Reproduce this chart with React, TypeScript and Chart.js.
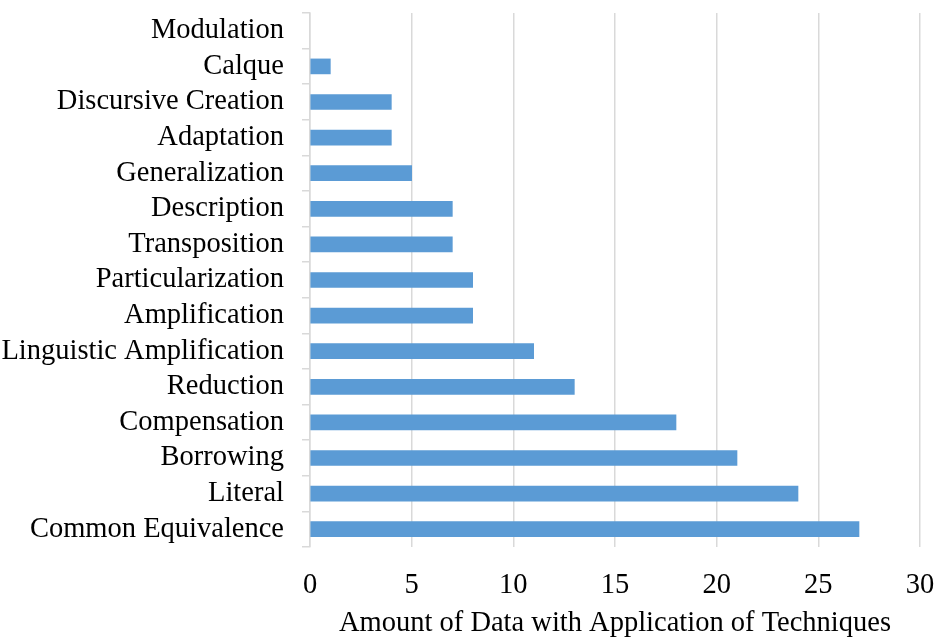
import React, { useEffect, useRef } from "react";
import { Chart, registerables } from "chart.js";

Chart.register(...registerables);

const categories = [
  "Modulation",
  "Calque",
  "Discursive Creation",
  "Adaptation",
  "Generalization",
  "Description",
  "Transposition",
  "Particularization",
  "Amplification",
  "Linguistic Amplification",
  "Reduction",
  "Compensation",
  "Borrowing",
  "Literal",
  "Common Equivalence",
];
const values = [0, 1, 4, 4, 5, 7, 7, 8, 8, 11, 13, 18, 21, 24, 27];
const xTitle = "Amount of Data with Application of Techniques";

const FONT = "'Liberation Serif', 'Times New Roman', serif";
const FS = 28.5;

export default function App() {
  const ref = useRef<HTMLCanvasElement>(null);
  useEffect(() => {
    const canvas = ref.current!;
    const chart = new Chart(canvas, {
      type: "bar",
      data: {
        labels: categories,
        datasets: [
          {
            data: values,
            backgroundColor: (ctx: any) => (ctx.raw === 0 ? "rgba(0,0,0,0)" : "#5B9BD5"),
            borderWidth: 0,
            barThickness: 15,
          },
        ],
      },
      options: {
        indexAxis: "y",
        animation: false,
        responsive: false,
        maintainAspectRatio: false,
        layout: { padding: { top: 13, right: 17, left: 0, bottom: 0 } },
        plugins: { legend: { display: false }, tooltip: { enabled: false } },
        scales: {
          x: {
            min: 0,
            max: 30,
            ticks: {
              stepSize: 5,
              color: "#000",
              font: { family: FONT, size: FS },
              padding: 21,
            },
            grid: { color: "#D9D9D9", lineWidth: 1.5, drawTicks: false },
            border: { display: false },
            title: {
              display: true,
              text: xTitle,
              color: "#000",
              font: { family: FONT, size: FS },
              padding: { top: 0, bottom: -4 },
            },
            afterFit: (scale: any) => {
              scale.height = 90;
              scale.paddingLeft = 0;
              scale.paddingRight = 0;
            },
          },
          y: {
            ticks: {
              color: "#000",
              font: { family: FONT, size: FS },
              padding: 18,
              autoSkip: false,
            },
            grid: {
              drawOnChartArea: false,
              drawTicks: true,
              tickLength: 8,
              color: "#D9D9D9",
              lineWidth: 1.5,
              offset: true,
            },
            border: { display: true, color: "#D9D9D9", width: 1.5 },
            afterFit: (scale: any) => {
              scale.width = 310;
              scale.paddingTop = 0;
              scale.paddingBottom = 0;
            },
          },
        },
      },
    });
    return () => chart.destroy();
  }, []);
  return (
    <div style={{ position: "fixed", left: 0, top: 0, width: 937, height: 637, background: "#fff" }}>
      <canvas ref={ref} width={937} height={637} style={{ width: 937, height: 637 }} />
    </div>
  );
}
